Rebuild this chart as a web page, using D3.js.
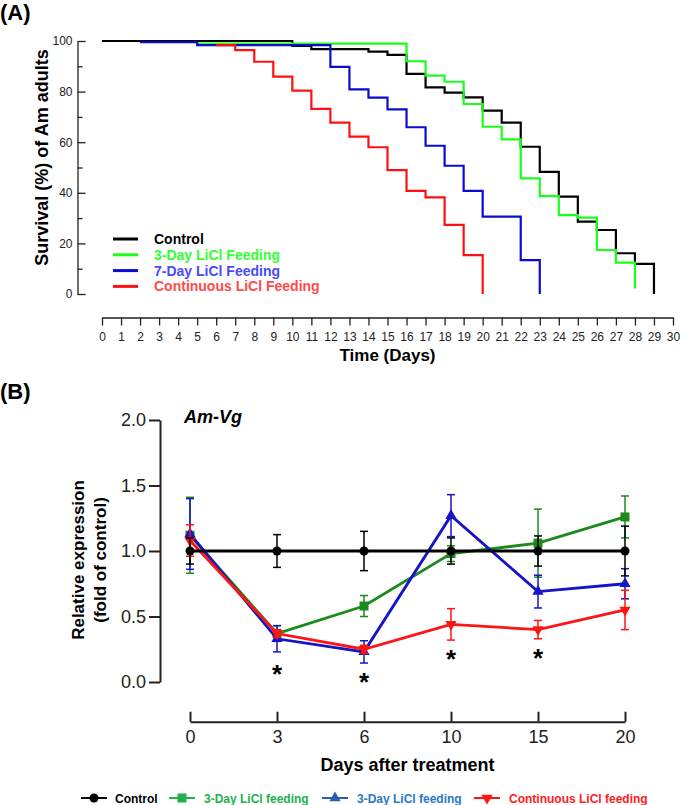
<!DOCTYPE html>
<html>
<head>
<meta charset="utf-8">
<script src="https://cdn.jsdelivr.net/npm/d3@7/dist/d3.min.js"></script>
<style>
body { margin: 0; background: #fff; }
svg { display: block; font-family: "Liberation Sans", Arial, sans-serif; }
</style>
</head>
<body>
<svg id="chart" width="681" height="805"></svg>
<script>
/*
Two panels:
(A) Kaplan-Meier survival steps of Am adults
(B) relative Am-Vg expression with error bars
*/

//---------- panel A data ----------
var dayTicks = [0,1,2,3,4,5,6,7,8,9,10,11,12,13,14,15,16,17,18,19,20,21,22,23,24,25,26,27,28,29,30];
var survivalTicks = [0, 20, 40, 60, 80, 100];
var survivalMinorTicks = [10, 30, 50, 70, 90];

//day of each step, survival (%) from that day on
var controlDays = [0, 10, 11, 14, 15, 16, 17, 18, 19, 20, 21, 22, 23, 24, 25, 26, 27, 28, 29];
var controlSurvival = [100, 98.1, 96.8, 95.8, 94.5, 87, 81.7, 79.6, 77.7, 72.5, 67.7, 58.2, 48.3, 38.5, 28.6, 25.3, 16.1, 11.9, 0];

var threeDayDays = [5, 16, 17, 18, 19, 20, 21, 22, 23, 24, 25, 26, 27, 28];
var threeDaySurvival = [99, 92, 86.3, 83.9, 75.1, 66.1, 61.1, 45.7, 38.7, 31.2, 30.2, 17.4, 12.4, 2.2];

var sevenDayDays = [2, 5, 12, 13, 14, 15, 16, 17, 18, 19, 20, 22, 23];
var sevenDaySurvival = [99.5, 98.4, 89.8, 80.9, 77.6, 73, 65.9, 58.6, 50.7, 40.8, 30.6, 13.4, 0];

var continuousDays = [6, 7, 8, 9, 10, 11, 12, 13, 14, 15, 16, 17, 18, 19, 20];
var continuousSurvival = [98.4, 96.4, 91.8, 85.9, 80.4, 73.2, 67.7, 62.2, 58, 49, 40.8, 38.2, 27.3, 15.4, 0];

var survivalNames = ["Control", "3-Day LiCl Feeding", "7-Day LiCl Feeding", "Continuous LiCl Feeding"];
var survivalColors = ["#000000", "#1aff1a", "#0a0ad0", "#ff1010"];
var survivalTextColors = ["#000000", "#33ff33", "#4a4aff", "#ff4a4a"];

//---------- panel B data ----------
var treatmentDays = ["0", "3", "6", "10", "15", "20"];
var expressionTicks = [0, 0.5, 1.0, 1.5, 2.0];

var controlMean = [1, 1, 1, 1, 1, 1];
var controlErr = [0.1, 0.125, 0.15, 0.1, 0.115, 0.19];

var threeDayMean = [1.12, 0.37, 0.58, 0.98, 1.06, 1.26];
var threeDayErr = [0.29, 0.06, 0.08, 0.06, 0.26, 0.16];

var sevenDayMean = [1.13, 0.33, 0.23, 1.27, 0.69, 0.75];
var sevenDayErr = [0.27, 0.1, 0.085, 0.16, 0.125, 0.115];

var continuousMean = [1.08, 0.37, 0.25, 0.44, 0.40, 0.55];
var continuousErr = [0.12, 0.03, 0.03, 0.12, 0.07, 0.15];

//asterisks: day and level of the star centre
var starDays = ["3", "6", "10", "15"];
var starLevels = [0.105, 0.046, 0.219, 0.231];

var expressionNames = ["Control", "3-Day LiCl feeding", "3-Day LiCl feeding", "Continuous LiCl feeding"];
var expressionColors = ["#000000", "#1c8a1c", "#1414c8", "#ff1414"];
var legendMarkColors = ["#000000", "#22b14c", "#2a5cb0", "#ff1414"];
var legendTextColors = ["#000000", "#22b14c", "#2a78c8", "#ff2020"];

var svg = d3.select("#chart");

makeSurvivalPanel(svg);
makeExpressionPanel(svg);

/*
Panel A: step curves, offset axes, legend
*/
function makeSurvivalPanel(svg){
	var x = d3.scaleLinear().domain([0, 30]).range([102, 673]);
	var y = d3.scaleLinear().domain([0, 100]).range([294, 41]);

	svg.append("text")
	.attr("x", 0)
	.attr("y", 20)
	.style("font-size", "22px")
	.style("font-weight", "bold")
	.text("(A)");

	//y axis, ticks point inward
	var yAxis = svg.append("g")
	.attr("transform", "translate(77.5,0)")
	.call(d3.axisLeft(y).tickValues(survivalTicks).tickSize(-8).tickSizeOuter(0).tickPadding(5));
	yAxis.selectAll("text").style("font-size", "12px").attr("fill", "#222");

	svg.append("g")
	.attr("transform", "translate(77.5,0)")
	.call(d3.axisLeft(y).tickValues(survivalMinorTicks).tickSize(-5).tickFormat(""))
	.select(".domain").remove();

	var xAxis = svg.append("g")
	.attr("transform", "translate(0,317.5)")
	.call(d3.axisBottom(x).tickValues(dayTicks).tickSize(8).tickSizeOuter(0));
	xAxis.selectAll("text").style("font-size", "12px").attr("fill", "#222").attr("y", 15);

	svg.selectAll(".domain, .tick line").attr("stroke", "#222").attr("stroke-width", 1.3);

	svg.append("text")
	.attr("transform", "rotate(-90)")
	.attr("x", -157.5)
	.attr("y", 48)
	.attr("text-anchor", "middle")
	.style("font-size", "18px")
	.style("font-weight", "bold")
	.text("Survival (%) of Am adults");

	svg.append("text")
	.attr("x", 387.5)
	.attr("y", 361)
	.attr("text-anchor", "middle")
	.style("font-size", "17px")
	.style("font-weight", "bold")
	.text("Time (Days)");

	var curves = [
		d3.zip(controlDays, controlSurvival),
		d3.zip(threeDayDays, threeDaySurvival),
		d3.zip(sevenDayDays, sevenDaySurvival),
		d3.zip(continuousDays, continuousSurvival)
	];

	var step = d3.line()
	.x(function(d){ return x(d[0]); })
	.y(function(d){ return y(d[1]); })
	.curve(d3.curveStepAfter);

	//black underneath, red on top
	svg.append("g")
	.selectAll("path")
	.data(curves)
	.enter()
	.append("path")
	.attr("d", step)
	.attr("fill", "none")
	.attr("stroke", function(d, i){ return survivalColors[i]; })
	.attr("stroke-width", 2.2);

	//legend
	var legend = svg.append("g")
	.selectAll("g")
	.data(survivalNames)
	.enter()
	.append("g")
	.attr("transform", function(d, i){ return "translate(113," + (239 + i * 15.8) + ")"; });

	legend.append("line")
	.attr("x1", 0)
	.attr("x2", 25)
	.attr("stroke", function(d, i){ return survivalColors[i]; })
	.attr("stroke-width", 3);

	legend.append("text")
	.attr("x", 41)
	.attr("y", 5)
	.attr("fill", function(d, i){ return survivalTextColors[i]; })
	.style("font-size", "14px")
	.style("font-weight", "bold")
	.text(function(d){ return d; });
}

/*
Panel B: lines, markers, error bars, stars, legend
*/
function makeExpressionPanel(svg){
	var x = d3.scalePoint().domain(treatmentDays).range([190, 625]);
	var y = d3.scaleLinear().domain([0, 2]).range([682, 420]);

	svg.append("text")
	.attr("x", 0)
	.attr("y", 399)
	.style("font-size", "22px")
	.style("font-weight", "bold")
	.text("(B)");

	var yAxis = svg.append("g")
	.attr("class", "axisB")
	.attr("transform", "translate(160,0)")
	.call(d3.axisLeft(y).tickValues(expressionTicks).tickFormat(d3.format(".1f")).tickSize(11).tickSizeOuter(0));
	yAxis.selectAll("text").style("font-size", "18px").attr("fill", "#222");

	//x axis sits below the plot, ticks point up
	var xAxis = svg.append("g")
	.attr("class", "axisB")
	.attr("transform", "translate(0,721.7)")
	.call(d3.axisBottom(x).tickSize(-10).tickSizeOuter(0).tickPadding(8.5));
	xAxis.selectAll("text").style("font-size", "18px").attr("fill", "#222");

	svg.selectAll(".axisB .domain, .axisB .tick line").attr("stroke", "#222").attr("stroke-width", 2);

	var yTitle = svg.append("text")
	.attr("transform", "rotate(-90)")
	.attr("text-anchor", "middle")
	.style("font-size", "17px")
	.style("font-weight", "bold");
	yTitle.append("tspan").attr("x", -560).attr("y", 83.5).text("Relative expression");
	yTitle.append("tspan").attr("x", -560).attr("y", 106).text("(fold of control)");

	svg.append("text")
	.attr("x", 407.5)
	.attr("y", 771)
	.attr("text-anchor", "middle")
	.style("font-size", "18px")
	.style("font-weight", "bold")
	.text("Days after treatment");

	svg.append("text")
	.attr("x", 184)
	.attr("y", 423)
	.style("font-size", "18px")
	.style("font-weight", "bold")
	.style("font-style", "italic")
	.text("Am-Vg");

	var series = [
		{mean: threeDayMean, err: threeDayErr, color: expressionColors[1], shape: "square"},
		{mean: sevenDayMean, err: sevenDayErr, color: expressionColors[2], shape: "up"},
		{mean: continuousMean, err: continuousErr, color: expressionColors[3], shape: "down"},
		{mean: controlMean, err: controlErr, color: expressionColors[0], shape: "circle"}
	];

	var line = d3.line()
	.x(function(d, i){ return x(treatmentDays[i]); })
	.y(function(d){ return y(d); });

	var groups = svg.append("g")
	.selectAll("g")
	.data(series)
	.enter()
	.append("g");

	//error bars first so the lines cover them
	groups.each(function(s){
		var g = d3.select(this);
		var bars = g.selectAll(".bar")
		.data(s.mean)
		.enter()
		.append("g")
		.attr("stroke", s.color)
		.attr("stroke-width", 1.5);

		bars.append("line")
		.attr("x1", function(d, i){ return x(treatmentDays[i]); })
		.attr("x2", function(d, i){ return x(treatmentDays[i]); })
		.attr("y1", function(d, i){ return y(d + s.err[i]); })
		.attr("y2", function(d, i){ return y(d - s.err[i]); });

		bars.append("line")
		.attr("x1", function(d, i){ return x(treatmentDays[i]) - 4; })
		.attr("x2", function(d, i){ return x(treatmentDays[i]) + 4; })
		.attr("y1", function(d, i){ return y(d + s.err[i]); })
		.attr("y2", function(d, i){ return y(d + s.err[i]); });

		bars.append("line")
		.attr("x1", function(d, i){ return x(treatmentDays[i]) - 4; })
		.attr("x2", function(d, i){ return x(treatmentDays[i]) + 4; })
		.attr("y1", function(d, i){ return y(d - s.err[i]); })
		.attr("y2", function(d, i){ return y(d - s.err[i]); });

		g.append("path")
		.attr("d", line(s.mean))
		.attr("fill", "none")
		.attr("stroke", s.color)
		.attr("stroke-width", 2.8);

		g.selectAll(".mark")
		.data(s.mean)
		.enter()
		.append("path")
		.attr("d", markerPath(s.shape))
		.attr("transform", function(d, i){
			return "translate(" + x(treatmentDays[i]) + "," + y(d) + ")" + (s.shape == "down" ? " rotate(180)" : "");
		})
		.attr("fill", s.color);
	});

	//significance stars
	svg.append("g")
	.selectAll("text")
	.data(starDays)
	.enter()
	.append("text")
	.attr("x", function(d){ return x(d); })
	.attr("y", function(d, i){ return y(starLevels[i]) + 15; })
	.attr("text-anchor", "middle")
	.style("font-size", "26px")
	.style("font-weight", "bold")
	.text("*");

	//legend along the bottom
	var legendX = [81, 169, 322, 474];
	var legendShapes = ["circle", "square", "up", "down"];

	var legend = svg.append("g")
	.selectAll("g")
	.data(expressionNames)
	.enter()
	.append("g")
	.attr("transform", function(d, i){ return "translate(" + legendX[i] + ",798)"; });

	legend.append("line")
	.attr("x1", 0)
	.attr("x2", 26)
	.attr("stroke", function(d, i){ return legendMarkColors[i]; })
	.attr("stroke-width", 2);

	legend.append("path")
	.attr("d", function(d, i){ return markerPath(legendShapes[i]); })
	.attr("transform", function(d, i){ return "translate(13,0)" + (legendShapes[i] == "down" ? " rotate(180)" : ""); })
	.attr("fill", function(d, i){ return legendMarkColors[i]; });

	legend.append("text")
	.attr("x", function(d, i){ return i == 0 ? 34 : 35; })
	.attr("y", 4.5)
	.attr("fill", function(d, i){ return legendTextColors[i]; })
	.style("font-size", "12px")
	.style("font-weight", "bold")
	.text(function(d){ return d; });
}

function markerPath(shape){
	if(shape == "circle") return d3.symbol().type(d3.symbolCircle).size(64)();
	if(shape == "square") return d3.symbol().type(d3.symbolSquare).size(81)();
	return d3.symbol().type(d3.symbolTriangle).size(55)();
}
</script>
</body>
</html>
